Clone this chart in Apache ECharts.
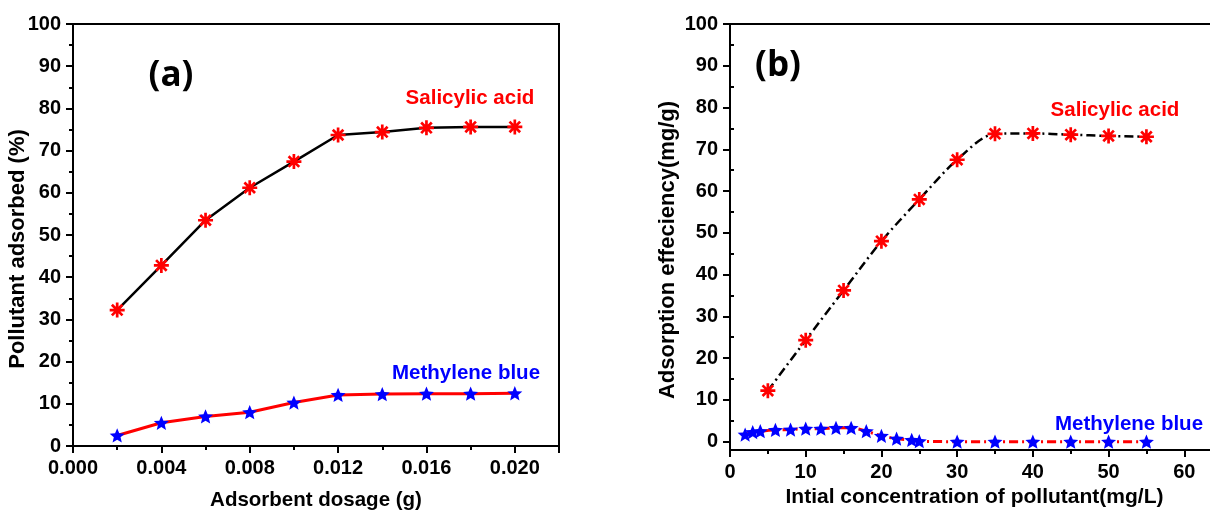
<!DOCTYPE html>
<html>
<head>
<meta charset="utf-8">
<script src="https://cdn.jsdelivr.net/npm/echarts@6/dist/echarts.min.js"></script>
<style>
  html, body { margin: 0; padding: 0; background: #fff; }
  #chart { width: 1210px; height: 510px; }
</style>
</head>
<body>
<div id="chart"></div>
<script>
// (a) effect of adsorbent dosage
const dosage = [0.002, 0.004, 0.006, 0.008, 0.010, 0.012, 0.014, 0.016, 0.018, 0.020];
const saByDosage = [32.2, 42.8, 53.5, 61.2, 67.4, 73.7, 74.4, 75.4, 75.6, 75.6];
const mbByDosage = [2.5, 5.5, 7.0, 8.0, 10.3, 12.1, 12.3, 12.4, 12.4, 12.5];

// (b) effect of initial concentration
const saConc = [5, 10, 15, 20, 25, 30, 35, 40, 45, 50, 55];
const saByConc = [12.2, 24.3, 36.2, 48.0, 58.0, 67.5, 73.7, 73.8, 73.5, 73.2, 73.0];
const mbConc = [2, 3, 4, 6, 8, 10, 12, 14, 16, 18, 20, 22, 24, 25, 30, 35, 40, 45, 50, 55];
const mbByConc = [1.7, 2.3, 2.5, 2.8, 2.9, 3.1, 3.1, 3.3, 3.3, 2.5, 1.4, 0.7, 0.4, 0.1, 0, 0, 0, 0, 0, 0];

const yTicksB = [0, 10, 20, 30, 40, 50, 60, 70, 80, 90, 100];
const yMinorB = [5, 15, 25, 35, 45, 55, 65, 75, 85, 95];

const FONT = '"Liberation Sans", Arial, sans-serif';
const RED = '#ff0000';
const BLUE = '#0000ff';

// eight-armed asterisk and five-pointed star marker shapes
const ASTERISK = 'path://M-10,-1.8L10,-1.8L10,1.8L-10,1.8Z' +
  'M-1.8,-10L1.8,-10L1.8,10L-1.8,10Z' +
  'M-5.80,-8.34L8.34,5.80L5.80,8.34L-8.34,-5.80Z' +
  'M-8.34,5.80L5.80,-8.34L8.34,-5.80L-5.80,8.34Z';
const STAR = 'path://M0,-10L2.645,-3.641L9.511,-3.090L4.280,1.391L5.878,8.090L0,4.5L-5.878,8.090L-4.280,1.391L-9.511,-3.090L-2.645,-3.641Z';

const pairs = (xs, ys) => xs.map((x, i) => [x, ys[i]]);

const axisLine = { show: true, onZero: false, lineStyle: { color: '#000', width: 2 } };
const majorTick = { show: true, inside: false, length: 7, lineStyle: { width: 2, color: '#000' } };
const minorTick = { show: true, splitNumber: 2, length: 4, lineStyle: { width: 2, color: '#000' } };
const tickLabel = { color: '#000', fontFamily: FONT, fontWeight: 'bold', fontSize: 20 };
const xName = { color: '#000', fontFamily: FONT, fontWeight: 'bold', fontSize: 20.5 };
const yName = { color: '#000', fontFamily: FONT, fontWeight: 'bold', fontSize: 22 };

const chart = echarts.init(document.getElementById('chart'), null, { renderer: 'canvas' });

chart.setOption({
  animation: false,
  backgroundColor: '#fff',
  grid: [
    { left: 73, top: 24, right: 651, bottom: 64, outerBoundsMode: 'none',
      show: true, borderColor: '#000', borderWidth: 2, backgroundColor: 'transparent' },
    { left: 730, top: 24, right: -50, bottom: 60, outerBoundsMode: 'none',
      show: true, borderColor: '#000', borderWidth: 2, backgroundColor: 'transparent' }
  ],
  xAxis: [
    {
      gridIndex: 0, type: 'value', min: 0, max: 0.022, interval: 0.004,
      name: 'Adsorbent dosage (g)', nameLocation: 'middle', nameGap: 44,
      nameTextStyle: xName,
      axisLine: axisLine, axisTick: majorTick, minorTick: minorTick,
      axisLabel: Object.assign({ margin: 12, showMaxLabel: false, formatter: v => v.toFixed(3) }, tickLabel),
      splitLine: { show: false }
    },
    {
      gridIndex: 1, type: 'value', min: 0, max: 70, interval: 10,
      name: 'Intial concentration of pollutant(mg/L)', nameLocation: 'middle', nameGap: 35,
      nameTextStyle: Object.assign({ padding: [0, 41, 0, 0] }, xName, { fontSize: 21 }),
      axisLine: axisLine, axisTick: majorTick, minorTick: minorTick,
      axisLabel: Object.assign({ margin: 12 }, tickLabel),
      splitLine: { show: false }
    }
  ],
  yAxis: [
    {
      gridIndex: 0, type: 'value', min: 0, max: 100, interval: 10,
      name: 'Pollutant adsorbed (%)', nameLocation: 'middle', nameGap: 44, nameMoveOverlap: false,
      nameTextStyle: Object.assign({ padding: [0, 28, 0, 0] }, yName),
      axisLine: axisLine, axisTick: majorTick, minorTick: minorTick,
      axisLabel: Object.assign({ margin: 12 }, tickLabel),
      splitLine: { show: false }
    },
    {
      gridIndex: 1, type: 'value', min: -2, max: 100,
      name: 'Adsorption effeciency(mg/g)', nameLocation: 'middle', nameGap: 51, nameMoveOverlap: false,
      nameTextStyle: Object.assign({ padding: [0, 26, 0, 0] }, yName),
      axisLine: axisLine,
      axisTick: Object.assign({ customValues: yTicksB }, majorTick),
      axisLabel: Object.assign({ margin: 12, customValues: yTicksB }, tickLabel),
      splitLine: { show: false }
    },
    {
      // short ticks halfway between the labelled ones
      gridIndex: 1, type: 'value', min: -2, max: 100,
      axisLine: { show: false },
      axisTick: { show: true, inside: false, length: 4, customValues: yMinorB, lineStyle: { width: 2, color: '#000' } },
      axisLabel: { show: false },
      splitLine: { show: false }
    }
  ],
  series: [
    {
      name: 'Salicylic acid', type: 'line', xAxisIndex: 0, yAxisIndex: 0,
      data: pairs(dosage, saByDosage),
      lineStyle: { color: '#000', width: 2.5 },
      symbol: ASTERISK, symbolSize: 15, symbolKeepAspect: true,
      itemStyle: { color: RED, borderWidth: 0 }
    },
    {
      name: 'Methylene blue', type: 'line', xAxisIndex: 0, yAxisIndex: 0,
      data: pairs(dosage, mbByDosage),
      lineStyle: { color: RED, width: 3 },
      symbol: STAR, symbolSize: 15, symbolKeepAspect: true,
      itemStyle: { color: BLUE, borderWidth: 0 }
    },
    {
      name: 'Salicylic acid', type: 'line', xAxisIndex: 1, yAxisIndex: 1,
      data: pairs(saConc, saByConc), smooth: 0.3,
      lineStyle: { color: '#000', width: 2.5, type: [9, 4, 2, 4] },
      symbol: ASTERISK, symbolSize: 15, symbolKeepAspect: true,
      itemStyle: { color: RED, borderWidth: 0 }
    },
    {
      name: 'Methylene blue', type: 'line', xAxisIndex: 1, yAxisIndex: 1,
      data: pairs(mbConc, mbByConc), smooth: 0.3,
      lineStyle: { color: RED, width: 3, type: [9, 4, 2, 4] },
      symbol: STAR, symbolSize: 15, symbolKeepAspect: true,
      itemStyle: { color: BLUE, borderWidth: 0 }
    }
  ],
  graphic: [
    { type: 'text', x: 171, y: 76, style: { text: '(a)', align: 'center', verticalAlign: 'middle', fill: '#000', font: 'bold 35px "Open Sans", Lato, sans-serif' } },
    { type: 'text', x: 778, y: 66, style: { text: '(b)', align: 'center', verticalAlign: 'middle', fill: '#000', font: 'bold 35px "Open Sans", Lato, sans-serif' } },
    { type: 'text', x: 470, y: 98, style: { text: 'Salicylic acid', align: 'center', verticalAlign: 'middle', fill: RED, font: 'bold 20.5px ' + FONT } },
    { type: 'text', x: 466, y: 373, style: { text: 'Methylene blue', align: 'center', verticalAlign: 'middle', fill: BLUE, font: 'bold 20.5px ' + FONT } },
    { type: 'text', x: 1115, y: 110, style: { text: 'Salicylic acid', align: 'center', verticalAlign: 'middle', fill: RED, font: 'bold 20.5px ' + FONT } },
    { type: 'text', x: 1129, y: 424, style: { text: 'Methylene blue', align: 'center', verticalAlign: 'middle', fill: BLUE, font: 'bold 20.5px ' + FONT } }
  ]
});
</script>
</body>
</html>
